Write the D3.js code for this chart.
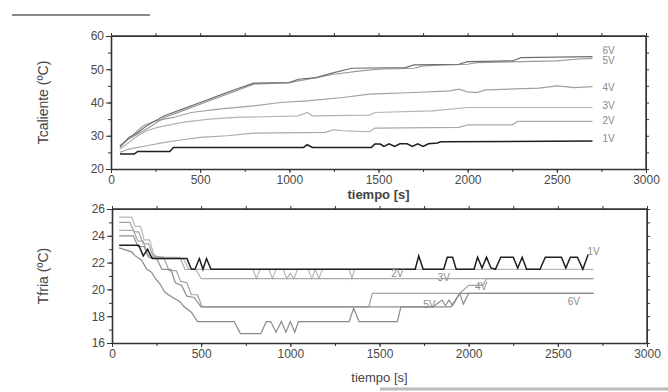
<!DOCTYPE html>
<html>
<head>
<meta charset="utf-8">
<script src="https://cdn.jsdelivr.net/npm/d3@7"></script>
<style>
  body { margin: 0; background: #fff; }
  svg { font-family: "Liberation Sans", Arial, sans-serif; }
  .tick text { fill: #4a4a4a; font-size: 12px; }
  .domain, .tick line { stroke: #333; }
</style>
</head>
<body>
<div id="chart"></div>
<script>
// ---- data: [tiempo s, temperatura ºC] ----
const voltages = ["1V", "2V", "3V", "4V", "5V", "6V"];

const hot1V = [[50,24.5],[130,24.5],[150,25.3],[330,25.3],[350,26.5],[1080,26.5],[1100,27.3],[1130,26.5],[1460,26.5],[1480,27.5],[1510,27.5],[1530,26.8],[1560,27.6],[1590,26.8],[1620,27.6],[1660,27.6],[1690,26.8],[1720,27.6],[1750,26.8],[1780,27.6],[1830,27.8],[1850,28.2],[2700,28.4]];
const hot2V = [[50,25],[100,26],[200,27],[300,28],[400,28.8],[500,29.5],[650,30],[800,30.8],[1200,31],[1250,31.8],[1300,31.5],[1450,31.2],[1480,32.3],[1950,32.5],[2000,33.3],[2250,33.3],[2280,34.3],[2700,34.3]];
const hot3V = [[50,26],[100,28],[150,30],[200,31.5],[260,32.5],[350,33.5],[400,34],[550,35],[700,35.5],[1050,36],[1100,37],[1130,36],[1450,36.2],[1480,37],[1800,37.5],[2000,38.5],[2700,38.5]];
const hot4V = [[50,27],[120,30],[180,33],[250,34.5],[350,35.5],[450,37],[600,38],[800,39],[950,40],[1100,40.5],[1300,41.5],[1450,42.5],[1700,43],[1900,43.5],[1950,44],[2000,43.2],[2050,43],[2100,43.8],[2400,44.3],[2500,45],[2600,44.5],[2700,44.8]];
const hot5V = [[50,27],[100,29],[150,30.5],[200,32],[300,35.5],[400,37.5],[500,39.5],[600,41.5],[700,43.5],[800,45.5],[1000,46],[1050,46.5],[1150,47.5],[1250,48.5],[1400,49.5],[1500,50],[1700,50.3],[1750,51],[2000,51.5],[2050,52],[2500,52.5],[2600,53],[2700,53.3]];
const hot6V = [[50,26.5],[100,29.5],[150,31],[200,33],[300,36],[400,38],[500,40],[600,42],[700,44],[800,45.8],[1000,46],[1050,47],[1150,47.5],[1250,49],[1350,50.3],[1650,50.5],[1700,51.3],[1950,51.5],[2000,52.3],[2250,52.5],[2300,53.5],[2700,53.8]];

const cold1V = [[40,23.3],[150,23.3],[175,22.5],[200,23.0],[225,22.3],[420,22.3],[445,21.5],[465,21.5],[490,22.3],[510,21.5],[530,22.3],[555,21.5],[1700,21.5],[1720,22.5],[1745,21.5],[1860,21.5],[1880,22.4],[1910,22.4],[1930,21.5],[2030,21.5],[2050,22.4],[2075,21.6],[2100,22.4],[2125,21.6],[2150,21.5],[2180,22.4],[2250,22.4],[2275,21.6],[2300,22.4],[2325,21.5],[2400,21.5],[2430,22.4],[2520,22.4],[2545,21.6],[2570,22.4],[2610,22.4],[2640,21.5],[2670,22.6]];
const cold2V = [[40,25.4],[110,25.4],[130,24.7],[160,24.7],[180,23.7],[210,23.7],[235,22.6],[260,22.3],[400,22.3],[430,21.5],[790,21.5],[810,20.8],[830,21.5],[880,21.5],[900,20.8],[920,21.5],[960,21.5],[980,20.8],[1000,21.2],[1020,20.8],[1040,21.5],[1100,21.5],[1120,20.8],[1140,21.5],[1160,20.8],[1180,21.5],[1330,21.5],[1345,20.8],[1360,21.5],[2700,21.5]];
const cold3V = [[40,24.4],[120,24.4],[145,23.6],[175,23.6],[200,22.6],[230,22.4],[380,22.4],[410,21.5],[470,21.5],[500,20.8],[2700,20.8]];
const cold4V = [[40,25.0],[100,25.0],[125,24.3],[150,24.3],[175,23.4],[205,23.4],[230,22.5],[290,22.4],[320,21.4],[360,21.4],[385,20.6],[420,20.5],[445,19.6],[480,19.6],[505,18.7],[1440,18.7],[1460,19.7],[1950,19.7],[2000,20.3],[2080,20.3],[2100,20.8],[2700,20.8]];
const cold5V = [[40,24.0],[120,24.0],[145,23.2],[180,23.2],[205,22.4],[250,22.3],[280,21.5],[330,21.5],[355,20.5],[390,20.3],[420,19.5],[460,19.4],[500,18.7],[1800,18.7],[1850,19.2],[1870,18.8],[1890,19.2],[1910,18.8],[1950,19.7],[1970,18.9],[2000,19.7],[2700,19.7]];
const cold6V = [[40,23.1],[110,22.8],[130,22.5],[165,22.2],[195,21.5],[220,21.3],[250,20.7],[270,20.4],[295,19.8],[340,19.4],[380,19.1],[405,18.7],[445,18.3],[480,17.6],[685,17.6],[720,16.7],[835,16.7],[865,17.6],[890,17.6],[920,16.8],[950,17.6],[975,16.8],[1000,17.6],[1025,16.8],[1045,17.6],[1330,17.6],[1355,18.6],[1385,17.6],[1600,17.6],[1620,18.7],[1900,18.7],[1950,19.7],[2700,19.7]];

const hotSeries = [hot1V, hot2V, hot3V, hot4V, hot5V, hot6V];
const coldSeries = [cold1V, cold2V, cold3V, cold4V, cold5V, cold6V];

// label anchors [t, T]
const hotLabels = [[2790,29.2],[2790,34.5],[2790,39.2],[2790,44.6],[2790,52.7],[2790,55.6]];
const coldLabels = [[2700,22.8],[1600,21.2],[1860,20.9],[2070,20.2],[1780,18.9],[2590,19.1]];

const xTicks = [0, 500, 1000, 1500, 2000, 2500, 3000];
const hotTicks = [20, 30, 40, 50, 60];
const coldTicks = [16, 18, 20, 22, 24, 26];

const lineColors = ["#1e1e1e", "#a9a9a9", "#b3b3b3", "#a0a0a0", "#9a9a9a", "#6e6e6e"];
const coldColors = ["#1e1e1e", "#b8b8b8", "#ababab", "#a3a3a3", "#8e8e8e", "#8a8a8a"];

const W = 668, H = 392;
const svg = d3.select("#chart").append("svg")
  .attr("width", W).attr("height", H);

// scan artefacts
svg.append("line").attr("x1", 12).attr("x2", 150).attr("y1", 15).attr("y2", 15)
  .attr("stroke", "#8a8a8a").attr("stroke-width", 2);
svg.append("line").attr("x1", 380).attr("x2", 668).attr("y1", 389).attr("y2", 389)
  .attr("stroke", "#bbb").attr("stroke-width", 3);

function panel(cfg) {
  const x = d3.scaleLinear().domain([0, 3000]).range([cfg.left, cfg.right]);
  const y = d3.scaleLinear().domain(cfg.ydom).range([cfg.bottom, cfg.top]);
  const g = svg.append("g");

  const minorX = d3.range(0, 3001, 250);
  const minorY = d3.range(cfg.ydom[0], cfg.ydom[1] + 0.001, cfg.minor);

  // minor ticks on all four sides (outward)
  g.append("g").attr("transform", `translate(0,${cfg.bottom})`)
    .call(d3.axisBottom(x).tickValues(minorX).tickSize(3).tickFormat("").tickSizeOuter(0));
  g.append("g").attr("transform", `translate(0,${cfg.top})`)
    .call(d3.axisTop(x).tickValues(minorX).tickSize(3).tickFormat("").tickSizeOuter(0));
  g.append("g").attr("transform", `translate(${cfg.left},0)`)
    .call(d3.axisLeft(y).tickValues(minorY).tickSize(3).tickFormat("").tickSizeOuter(0));
  g.append("g").attr("transform", `translate(${cfg.right},0)`)
    .call(d3.axisRight(y).tickValues(minorY).tickSize(3).tickFormat("").tickSizeOuter(0));

  // major ticks + labels
  g.append("g").attr("transform", `translate(0,${cfg.bottom})`)
    .call(d3.axisBottom(x).tickValues(xTicks).tickFormat(d3.format("d"))
      .tickSize(4).tickPadding(2).tickSizeOuter(0))
    .call(a => a.select(".domain").attr("stroke-width", 1.6));
  g.append("g").attr("transform", `translate(${cfg.left},0)`)
    .call(d3.axisLeft(y).tickValues(cfg.ticks).tickSize(5).tickPadding(2).tickSizeOuter(0))
    .call(a => a.select(".domain").attr("stroke-width", 1.6));

  // frame top/right
  g.append("line").attr("x1", cfg.left).attr("x2", cfg.right).attr("y1", cfg.top).attr("y2", cfg.top)
    .attr("stroke", "#333").attr("stroke-width", 1.4);
  g.append("line").attr("x1", cfg.right).attr("x2", cfg.right).attr("y1", cfg.top).attr("y2", cfg.bottom)
    .attr("stroke", "#333").attr("stroke-width", 1.4);

  const line = d3.line().x(d => x(d[0])).y(d => y(d[1]));
  // draw light ones first, black 1V last
  const order = [1, 2, 3, 4, 5, 0];
  order.forEach(i => {
    g.append("path").datum(cfg.series[i])
      .attr("d", line)
      .attr("fill", "none")
      .attr("stroke", cfg.colors[i])
      .attr("stroke-width", i === 0 ? 1.5 : 1.2);
  });

  g.selectAll("text.vlab").data(cfg.labels).join("text")
    .attr("class", "vlab")
    .attr("x", d => x(d[0])).attr("y", d => y(d[1]))
    .attr("dy", "0.35em")
    .attr("text-anchor", "middle")
    .attr("font-size", 10)
    .attr("fill", "#8a8a8a")
    .text((d, i) => voltages[i]);

  g.append("text")
    .attr("x", (cfg.left + cfg.right) / 2).attr("y", cfg.xtitleY)
    .attr("text-anchor", "middle")
    .attr("font-size", 13)
    .attr("font-weight", cfg.boldTitle ? "bold" : "normal")
    .attr("fill", "#444")
    .text("tiempo [s]");

  g.append("text")
    .attr("transform", `translate(48,${(cfg.top + cfg.bottom) / 2}) rotate(-90)`)
    .attr("text-anchor", "middle")
    .attr("font-size", 14)
    .attr("fill", "#444")
    .text(cfg.ytitle);
}

panel({
  left: 111, right: 646, top: 36, bottom: 169,
  ydom: [20, 60], ticks: hotTicks, minor: 5,
  series: hotSeries, colors: lineColors, labels: hotLabels,
  xtitleY: 199, boldTitle: true, ytitle: "Tcaliente (ºC)"
});

panel({
  left: 112, right: 647, top: 209, bottom: 343,
  ydom: [16, 26], ticks: coldTicks, minor: 1,
  series: coldSeries, colors: coldColors, labels: coldLabels,
  xtitleY: 382, boldTitle: false, ytitle: "Tfria (ºC)"
});
</script>
</body>
</html>
